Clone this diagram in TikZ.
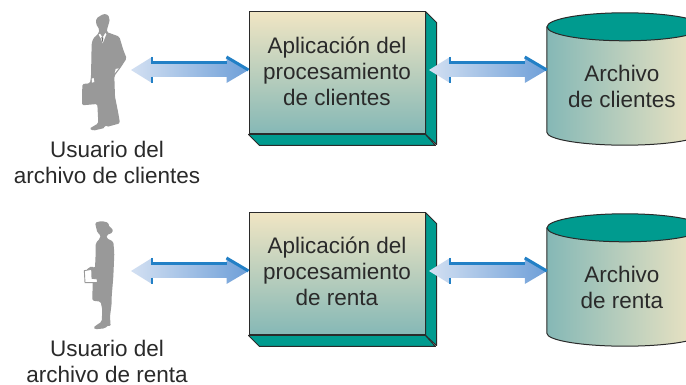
\documentclass[tikz,border=0pt]{standalone}
\usepackage{fontspec}
\setmainfont{Liberation Sans}
\usetikzlibrary{shapes.geometric,calc}
\definecolor{tealdark}{HTML}{009B8F}
\definecolor{tealsoft}{HTML}{85B8B6}
\definecolor{creamy}{HTML}{F0E5C3}
\definecolor{figgray}{HTML}{999999}
\definecolor{inkdark}{HTML}{2A2A2A}
\definecolor{arrowlight}{HTML}{D3E0F2}
\definecolor{arrowdeep}{HTML}{6E9FD8}
\definecolor{arrowedge}{HTML}{2280C6}
\tikzset{
    lbl/.style={text=inkdark, align=center, font=\fontsize{22.5}{26}\selectfont},
    appbox/.style={rectangle, draw=inkdark, line width=1pt,
        minimum width=176pt, minimum height=122pt, inner sep=0pt,
        top color=creamy, bottom color=tealsoft},
    filebox/.style={rectangle, minimum width=156pt, minimum height=105pt, inner sep=0pt},
    side/.style={fill=tealdark, draw=inkdark, line width=1pt, line join=round},
    filebody/.style={draw=inkdark, line width=1pt, left color=tealsoft, right color=creamy},
    filetop/.style={fill=tealdark, draw=inkdark, line width=1pt},
}
% double arrow between two named points
\newcommand{\bluearrow}[2]{
    \path[left color=arrowlight, right color=arrowdeep]
        let \p1=(#1), \p2=(#2) in
        (\x1,\y1) -- (\x1+21pt,\y1+13pt) -- (\x1+21pt,\y1+8pt)
        -- (\x2-22pt,\y2+8pt) -- (\x2-22pt,\y2+13pt) -- (\x2,\y2)
        -- (\x2-22pt,\y2-13pt) -- (\x2-22pt,\y2-7pt)
        -- (\x1+21pt,\y1-7pt) -- (\x1+21pt,\y1-13pt) -- cycle;
    \draw[arrowedge, line width=2.2pt]
        let \p1=(#1), \p2=(#2) in
        (\x1+21pt,\y1+13pt) -- (\x1+21pt,\y1+7.5pt) -- (\x2-22pt,\y2+7.5pt)
        (\x1+21pt,\y1-7pt) -- (\x1+21pt,\y1-13pt);
    \draw[arrowedge, line width=3pt]
        let \p2=(#2) in (\x2-22pt,\y2+13pt) -- (\x2,\y2);
}
\begin{document}
\begin{tikzpicture}[x=1pt, y=1pt]
    \clip (0,0) rectangle (686,385);
    \fill[white] (0,0) rectangle (686,385);
    % first row
    \node[lbl] (user1) at (107,222.5) {Usuario del\\archivo de clientes};
    \coordinate (u1) at (131,315);
    \node[appbox] (app1) at (337,312) {};
    \draw[side] (app1.north east) -- ++(11,-11) -- ++(0,-122) -- (app1.south east) -- cycle;
    \draw[side] (app1.south west) -- ++(11,-11) -- ++(176,0) -- (app1.south east) -- cycle;
    \node[lbl] (app1txt) at (337,314) {Aplicación del\\procesamiento\\de clientes};
    \node[filebox] (file1) at (625,305.5) {};
    \draw[filebody] (file1.north west) -- (file1.south west)
        arc[start angle=180, end angle=360, x radius=78, y radius=13]
        -- (file1.north east);
    \draw[filetop] (file1.north) ellipse[x radius=78, y radius=14];
    \node[lbl] (file1txt) at (622,299) {Archivo\\de clientes};
    \coordinate (f1) at (file1.west |- 0,315);
    \coordinate (a1w) at (app1.west |- 0,315);
    \coordinate (a1e) at (429,315);
    \bluearrow{u1}{a1w}
    \bluearrow{a1e}{f1}
    % second row
    \node[lbl] (user2) at (107,23.5) {Usuario del\\archivo de renta};
    \coordinate (u2) at (131,114);
    \node[appbox] (app2) at (337,111) {};
    \draw[side] (app2.north east) -- ++(11,-11) -- ++(0,-122) -- (app2.south east) -- cycle;
    \draw[side] (app2.south west) -- ++(11,-11) -- ++(176,0) -- (app2.south east) -- cycle;
    \node[lbl] (app2txt) at (337,114) {Aplicación del\\procesamiento\\de renta};
    \node[filebox] (file2) at (625,104.5) {};
    \draw[filebody] (file2.north west) -- (file2.south west)
        arc[start angle=180, end angle=360, x radius=78, y radius=13]
        -- (file2.north east);
    \draw[filetop] (file2.north) ellipse[x radius=78, y radius=14];
    \node[lbl] (file2txt) at (622,98) {Archivo\\de renta};
    \coordinate (f2) at (file2.west |- 0,114);
    \coordinate (a2w) at (app2.west |- 0,114);
    \coordinate (a2e) at (429,114);
    \bluearrow{u2}{a2w}
    \bluearrow{a2e}{f2}
    % man
    \begin{scope}[shift={(60,385)}, x=0.3333pt, y=-0.3333pt]
        \fill[figgray, rounded corners=1.5pt] (130,42) .. controls (145,43) and (150,52) .. (148,65)
            -- (142,85) -- (140,96) -- (178,110) -- (190,150) -- (200,175)
            -- (182,203) -- (163,228) -- (165,290) -- (175,340) -- (180,370)
            -- (140,381) -- (136,374) -- (134,384) -- (100,392) -- (88,386)
            -- (115,370) -- (112,312) -- (66,316) -- (67,252) -- (90,250)
            -- (93,230) -- (95,130) -- (100,115) -- (116,100) -- (118,88)
            -- (108,72) -- (109,55) -- cycle;
        \fill[white] (116,104) -- (120,101) -- (128,113) -- (136,99) -- (139,103)
            -- (128,130) -- (123,116) -- cycle;
        \fill[figgray!70!black] (124,111) -- (130,113) -- (128,128) -- cycle;
        \fill[white] (167,207) -- (176,205) -- (164,220) -- cycle;
        \fill[white] (95,236) -- (101,234) -- (103,246) -- (96,248) -- cycle;
    \end{scope}
    % woman
    \begin{scope}[shift={(60,175)}, x=0.3333pt, y=-0.3333pt]
        \fill[figgray, rounded corners=1.5pt] (105,38) -- (125,33) -- (145,38) -- (148,52) -- (158,55)
            -- (158,68) -- (148,72) -- (140,75) -- (140,85) -- (160,95)
            -- (163,130) -- (160,200) -- (155,260) -- (155,280) -- (150,320)
            -- (152,350) -- (145,345) -- (135,355) -- (105,358) -- (100,352)
            -- (125,335) -- (127,300) -- (122,275) -- (97,272) -- (98,215)
            -- (90,205) -- (78,180) -- (95,168) -- (105,175) -- (107,130)
            -- (107,100) -- (120,85) -- (122,75) -- (112,68) -- (108,50) -- cycle;
        \draw[figgray, fill=white, line width=0.9pt] (73,182) -- (95,178) -- (96,205)
            -- (112,207) -- (112,218) -- (75,218) -- cycle;
    \end{scope}
\end{tikzpicture}
\end{document}
